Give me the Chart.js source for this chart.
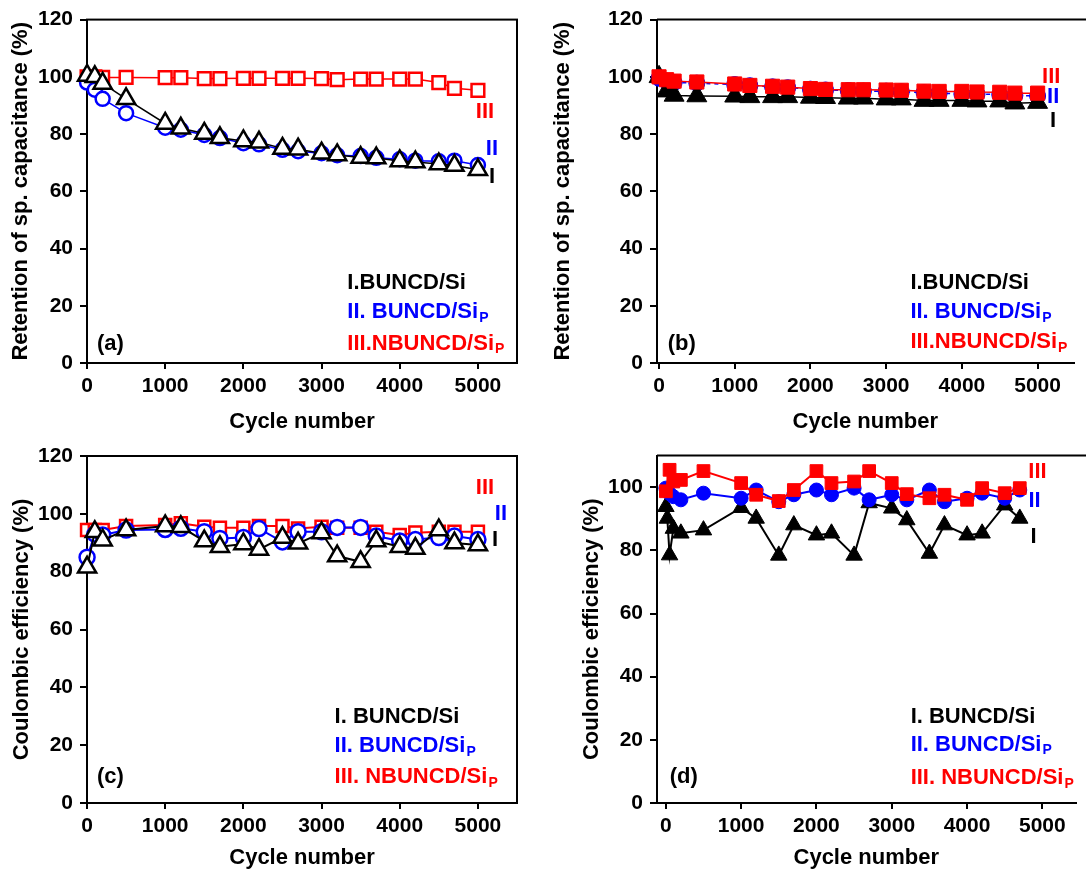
<!DOCTYPE html>
<html>
<head>
<meta charset="utf-8">
<script src="https://cdn.jsdelivr.net/npm/chart.js@4.4.1/dist/chart.umd.min.js"></script>
<style>
  body { margin: 0; background: #fff; overflow: hidden; }
  canvas { position: absolute; }
</style>
</head>
<body>
<canvas id="grafico_a" width="543" height="436" style="left:0px;top:0px"></canvas>
<canvas id="grafico_b" width="543" height="436" style="left:543px;top:0px"></canvas>
<canvas id="grafico_c" width="543" height="436" style="left:0px;top:436px"></canvas>
<canvas id="grafico_d" width="543" height="436" style="left:543px;top:436px"></canvas>
<script>
// ciclos (eixo x)
const ciclos = [1, 100, 200, 500, 1000, 1200, 1500, 1700, 2000, 2200, 2500, 2700, 3000, 3200, 3500, 3700, 4000, 4200, 4500, 4700, 5000];
const ciclosD = [1, 50, 100, 200, 500, 1000, 1200, 1500, 1700, 2000, 2200, 2500, 2700, 3000, 3200, 3500, 3700, 4000, 4200, 4500, 4700];
const ciclosD_I = [1, 20, 50, 100, 200, 500, 1000, 1200, 1500, 1700, 2000, 2200, 2500, 2700, 3000, 3200, 3500, 3700, 4000, 4200, 4500, 4700];

// (a) retenção - marcadores vazados
const retencaoA_I = [100.5, 100, 97.7, 92.3, 83.7, 82, 80.2, 78.7, 77.6, 77.1, 75, 74.7, 73.3, 72.7, 71.8, 71.6, 70.6, 70.2, 69.5, 69, 67.5];
const retencaoA_II = [98, 95.5, 92.3, 87.3, 82.2, 81.5, 79.7, 78.6, 76.8, 76.4, 74.5, 74, 73.3, 72.6, 72.3, 71.7, 71.2, 70.7, 70.5, 70.7, 69.2];
const retencaoA_III = [100, 100, 99.8, 99.8, 99.7, 99.7, 99.4, 99.4, 99.5, 99.5, 99.5, 99.5, 99.4, 99, 99.2, 99.2, 99.2, 99.2, 98, 96, 95.3];

// (b) retenção - marcadores cheios
const retencaoB_I = [100, 95, 93.5, 93.3, 93.2, 93, 93, 93, 92.8, 92.7, 92.5, 92.5, 92.2, 92.2, 91.7, 91.7, 91.7, 91.5, 91.5, 90.8, 91];
const retencaoB_II = [99.5, 98.5, 98, 97.8, 97.3, 96.9, 96.5, 96.2, 95.7, 95.4, 95.2, 95, 95, 94.8, 94.5, 94.3, 94, 94, 93.8, 93.5, 93.3];
const retencaoB_III = [100, 99, 98.5, 98.2, 97.5, 97, 96.7, 96.4, 95.9, 95.6, 95.5, 95.5, 95.4, 95.3, 95, 94.9, 94.9, 94.7, 94.6, 94.3, 94.3];

// (c) eficiência coulombica - marcadores vazados
const eficienciaC_I = [81.5, 93.8, 90.9, 94.4, 95.8, 95.5, 90.6, 88.6, 89.6, 87.7, 91.8, 89.8, 93.4, 85.4, 83.4, 90.6, 88.6, 88, 94.4, 89.9, 89.2];
const eficienciaC_II = [85, 93, 92.7, 94.4, 94.6, 95, 93.8, 91.5, 91.8, 94.9, 90.3, 93.8, 93.8, 95.3, 95.3, 92.3, 90.6, 91.1, 91.8, 92.3, 91.1];
const eficienciaC_III = [94.4, 94.4, 94.4, 95.8, 96.1, 96.7, 95.5, 95.2, 95.2, 95.8, 95.8, 94.9, 95.5, 95.2, 95.2, 93.8, 92.7, 93.5, 93.8, 93.8, 93.8];

// (d) eficiência coulombica - marcadores cheios
const eficienciaD_I = [93.8, 90.1, 78.5, 86.9, 85.4, 86.4, 93.5, 90.1, 78.4, 88, 84.8, 85.4, 78.4, 95, 93.3, 89.6, 79, 88, 84.8, 85.4, 94.3, 90.1];
const eficienciaD_II = [99.7, 98, 97, 96, 98.1, 96.5, 99.1, 95.4, 97.6, 99.1, 97.6, 99.7, 96, 97.6, 96, 99.1, 95.4, 96.5, 98.1, 96.5, 99.1];
const eficienciaD_III = [98.7, 105.5, 101.8, 102.3, 105.1, 101.3, 97.6, 95.6, 99.1, 105.1, 101.3, 101.8, 105.1, 101.3, 97.8, 96.5, 97.6, 96, 99.7, 98.1, 99.7];

// rótulos dos eixos
const ticksX = [0, 1000, 2000, 3000, 4000, 5000];
const ticksY120 = [0, 20, 40, 60, 80, 100, 120];
const ticksY100 = [0, 20, 40, 60, 80, 100];

const familia = '"Liberation Sans", Arial, sans-serif';
const fonteTicks = { family: familia, size: 21, weight: "bold" };
const fonteTitulo = { family: familia, size: 22, weight: "bold" };

const PRETO = "#000000";
const AZUL = "#0000FF";
const VERMELHO = "#FF0000";

function pontos(xs, ys) {
  return xs.map((x, i) => ({ x: x, y: ys[i] }));
}

function eixoX(min, max, altura) {
  return {
    type: "linear",
    min: min,
    max: max,
    afterBuildTicks: (eixo) => {
      eixo.ticks = ticksX.map((v) => ({ value: v }));
    },
    afterFit: (eixo) => {
      eixo.height = altura;
    },
    border: { display: true, color: PRETO, width: 2 },
    grid: { drawOnChartArea: false, color: PRETO, lineWidth: 2, tickLength: 6 },
    ticks: {
      color: PRETO,
      font: fonteTicks,
      padding: 5,
      maxRotation: 0,
      callback: (valor) => String(valor),
    },
    title: {
      display: true,
      text: "Cycle number",
      color: PRETO,
      font: fonteTitulo,
      padding: { top: 0, bottom: 1 },
    },
  };
}

function eixoY(max, ticks, titulo, largura, paddingTitulo) {
  return {
    min: 0,
    max: max,
    afterBuildTicks: (eixo) => {
      eixo.ticks = ticks.map((v) => ({ value: v }));
    },
    afterFit: (eixo) => {
      eixo.width = largura;
    },
    border: { display: true, color: PRETO, width: 2 },
    grid: { drawOnChartArea: false, color: PRETO, lineWidth: 2, tickLength: 7 },
    ticks: { color: PRETO, font: fonteTicks, padding: 7, callback: (valor) => String(valor) },
    title: {
      display: true,
      text: titulo,
      color: PRETO,
      font: fonteTitulo,
      padding: { top: paddingTitulo, bottom: 0 },
    },
  };
}

function serie(dados, cor, estilo, raio, cheio, ordem, espessura, tracejado) {
  return {
    data: dados,
    borderColor: cor,
    borderWidth: espessura,
    borderDash: tracejado || [],
    pointStyle: estilo,
    pointRadius: raio,
    pointBorderWidth: cheio ? 1 : 2.5,
    pointBackgroundColor: cheio ? cor : "#FFFFFF",
    pointBorderColor: cor,
    tension: 0,
    clip: false,
    order: ordem,
  };
}

function pluginMoldura(tipo) {
  return {
    id: "moldura",
    beforeDatasetsDraw(chart) {
      const area = chart.chartArea;
      const ctx = chart.ctx;
      ctx.save();
      ctx.strokeStyle = PRETO;
      ctx.lineWidth = 2;
      if (tipo === "caixa") {
        ctx.strokeRect(area.left, area.top, area.right - area.left, area.bottom - area.top);
      } else {
        ctx.beginPath();
        ctx.moveTo(area.left, area.top);
        ctx.lineTo(chart.width, area.top);
        ctx.stroke();
      }
      ctx.restore();
    },
  };
}

function pluginTextos(itens) {
  return {
    id: "textos",
    afterDraw(chart) {
      const ctx = chart.ctx;
      const x = chart.scales.x;
      const y = chart.scales.y;
      ctx.save();
      ctx.textBaseline = "middle";
      itens.forEach((item) => {
        const px = x.getPixelForValue(item.x);
        const py = y.getPixelForValue(item.y);
        ctx.font = `bold 22px ${familia}`;
        ctx.fillStyle = item.cor;
        ctx.textAlign = item.alinhar || "left";
        ctx.fillText(item.texto, px, py);
        if (item.sub) {
          const largura = ctx.measureText(item.texto).width;
          ctx.font = `bold 14px ${familia}`;
          ctx.textAlign = "left";
          ctx.fillText(item.sub, px + largura + 1, py + 6);
        }
      });
      ctx.restore();
    },
  };
}

function criarGrafico(id, datasets, escalas, padding, plugins) {
  const ctx = document.getElementById(id).getContext("2d");
  return new Chart(ctx, {
    type: "line",
    data: { datasets: datasets },
    options: {
      responsive: false,
      animation: false,
      devicePixelRatio: 1,
      layout: { padding: padding },
      scales: escalas,
      plugins: {
        legend: { display: false },
        tooltip: { enabled: false },
      },
    },
    plugins: plugins,
  });
}

// (a)
criarGrafico(
  "grafico_a",
  [
    serie(pontos(ciclos, retencaoA_III), VERMELHO, "rect", 9, false, 3, 1.5),
    serie(pontos(ciclos, retencaoA_II), AZUL, "circle", 7, false, 2, 1.5),
    serie(pontos(ciclos, retencaoA_I), PRETO, "triangle", 10.5, false, 1, 1.5),
  ],
  {
    x: eixoX(0, 5500, 73),
    y: eixoY(120, ticksY120, "Retention of sp. capacitance (%)", 87, 8),
  },
  { top: 17, right: 26, left: 0, bottom: 0 },
  [
    pluginMoldura("caixa"),
    pluginTextos([
      { texto: "III", x: 5090, y: 87.8, cor: VERMELHO, alinhar: "center" },
      { texto: "II", x: 5180, y: 74.9, cor: AZUL, alinhar: "center" },
      { texto: "I", x: 5180, y: 65, cor: PRETO, alinhar: "center" },
      { texto: "I.BUNCD/Si", x: 3330, y: 28.1, cor: PRETO },
      { texto: "II. BUNCD/Si", sub: "P", x: 3330, y: 17.7, cor: AZUL },
      { texto: "III.NBUNCD/Si", sub: "P", x: 3330, y: 6.8, cor: VERMELHO },
      { texto: "(a)", x: 128, y: 6.5, cor: PRETO },
    ]),
  ]
);

// (b)
criarGrafico(
  "grafico_b",
  [
    serie(pontos(ciclos, retencaoB_III), VERMELHO, "rect", 10, true, 1, 1.5),
    serie(pontos(ciclos, retencaoB_II), AZUL, "circle", 8, true, 3, 1.5, [4, 4]),
    serie(pontos(ciclos, retencaoB_I), PRETO, "triangle", 11.5, true, 2, 1.5),
  ],
  {
    x: eixoX(-26, 5474, 73),
    y: eixoY(120, ticksY120, "Retention of sp. capacitance (%)", 114, 7),
  },
  { top: 17, right: 0, left: 0, bottom: 0 },
  [
    pluginMoldura("topo"),
    pluginTextos([
      { texto: "III", x: 5180, y: 99.8, cor: VERMELHO, alinhar: "center" },
      { texto: "II", x: 5205, y: 92.9, cor: AZUL, alinhar: "center" },
      { texto: "I", x: 5205, y: 84.5, cor: PRETO, alinhar: "center" },
      { texto: "I.BUNCD/Si", x: 3320, y: 28.1, cor: PRETO },
      { texto: "II. BUNCD/Si", sub: "P", x: 3320, y: 17.7, cor: AZUL },
      { texto: "III.NBUNCD/Si", sub: "P", x: 3320, y: 7.3, cor: VERMELHO },
      { texto: "(b)", x: 115, y: 6.5, cor: PRETO },
    ]),
  ]
);

// (c)
criarGrafico(
  "grafico_c",
  [
    serie(pontos(ciclos, eficienciaC_III), VERMELHO, "rect", 8.5, false, 3, 2),
    serie(pontos(ciclos, eficienciaC_II), AZUL, "circle", 7.5, false, 2, 2),
    serie(pontos(ciclos, eficienciaC_I), PRETO, "triangle", 10.5, false, 1, 2),
  ],
  {
    x: eixoX(0, 5500, 69),
    y: eixoY(120, ticksY120, "Coulombic efficiency (%)", 87, 9),
  },
  { top: 20, right: 26, left: 0, bottom: 0 },
  [
    pluginMoldura("caixa"),
    pluginTextos([
      { texto: "III", x: 5090, y: 108.9, cor: VERMELHO, alinhar: "center" },
      { texto: "II", x: 5295, y: 99.9, cor: AZUL, alinhar: "center" },
      { texto: "I", x: 5218, y: 90.9, cor: PRETO, alinhar: "center" },
      { texto: "I. BUNCD/Si", x: 3167, y: 29.7, cor: PRETO },
      { texto: "II. BUNCD/Si", sub: "P", x: 3167, y: 19.7, cor: AZUL },
      { texto: "III. NBUNCD/Si", sub: "P", x: 3167, y: 9, cor: VERMELHO },
      { texto: "(c)", x: 128, y: 9, cor: PRETO },
    ]),
  ]
);

// (d)
criarGrafico(
  "grafico_d",
  [
    serie(pontos(ciclosD, eficienciaD_III), VERMELHO, "rect", 9, true, 1, 2),
    serie(pontos(ciclosD, eficienciaD_II), AZUL, "circle", 7, true, 2, 2),
    serie(pontos(ciclosD_I, eficienciaD_I), PRETO, "triangle", 9.5, true, 3, 2),
  ],
  {
    x: eixoX(-117, 5440, 69),
    y: eixoY(110, ticksY100, "Coulombic efficiency (%)", 114, 36),
  },
  { top: 19, right: 0, left: 0, bottom: 0 },
  [
    pluginMoldura("topo"),
    pluginTextos([
      { texto: "III", x: 4935, y: 104.8, cor: VERMELHO, alinhar: "center" },
      { texto: "II", x: 4896, y: 95.5, cor: AZUL, alinhar: "center" },
      { texto: "I", x: 4883, y: 84.4, cor: PRETO, alinhar: "center" },
      { texto: "I. BUNCD/Si", x: 3251, y: 27.4, cor: PRETO },
      { texto: "II. BUNCD/Si", sub: "P", x: 3251, y: 18.5, cor: AZUL },
      { texto: "III. NBUNCD/Si", sub: "P", x: 3251, y: 8, cor: VERMELHO },
      { texto: "(d)", x: 52, y: 8.3, cor: PRETO },
    ]),
  ]
);
</script>
</body>
</html>
